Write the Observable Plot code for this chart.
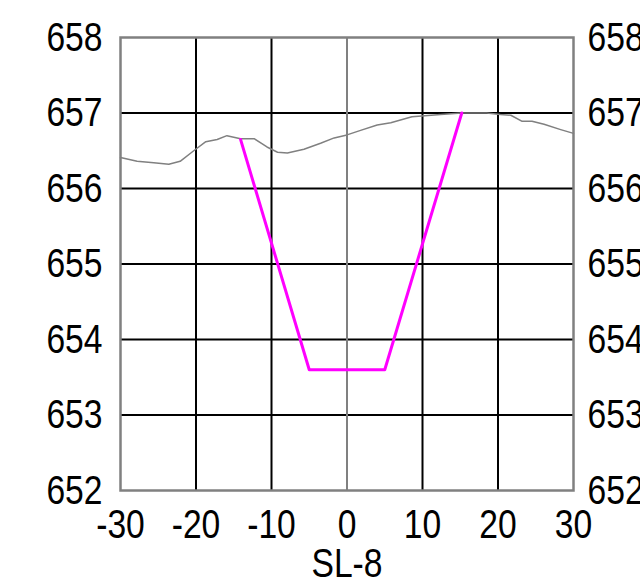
<!DOCTYPE html>
<html>
<head>
<meta charset="utf-8">
<script src="https://cdn.jsdelivr.net/npm/d3@7"></script>
<script src="https://cdn.jsdelivr.net/npm/@observablehq/plot@0.6"></script>
<style>
  html, body { margin: 0; padding: 0; background: #fff; }
  svg { display: block; }
</style>
</head>
<body>
<div id="chart"></div>
<script>
const groundX = [-30, -27.8, -25.6, -23.6, -22.1, -20.3, -18.7, -17.2, -15.9, -14.1, -12.3, -10.6, -9.2, -7.9, -5.7, -3.5, -1.7, 0.0, 1.8, 4.0, 5.8, 8.6, 9.9, 12.4, 15.2, 18.5, 20.3, 21.7, 23.2, 24.5, 26.1, 28.3, 30];
const groundY = [656.41, 656.36, 656.34, 656.32, 656.36, 656.50, 656.62, 656.65, 656.70, 656.66, 656.66, 656.55, 656.48, 656.47, 656.52, 656.60, 656.67, 656.71, 656.77, 656.84, 656.87, 656.95, 656.96, 656.98, 657.00, 657.00, 656.98, 656.97, 656.89, 656.89, 656.85, 656.78, 656.73];
const sectionX = [-14.1, -5, 5, 15.2];
const sectionY = [656.65, 653.6, 653.6, 657.0];
const xTicks = [-30, -20, -10, 0, 10, 20, 30];
const yTicks = [652, 653, 654, 655, 656, 657, 658];
const xTitle = "SL-8";

const ground = groundX.map((x, i) => ({x, y: groundY[i]}));
const section = sectionX.map((x, i) => ({x, y: sectionY[i]}));
const blackX = xTicks.filter(d => d !== 0 && d !== -30 && d !== 30);
const blackY = yTicks.filter(d => d !== 652 && d !== 658);

const font = "'Liberation Sans', Arial, sans-serif";
const fs = 41;

const chart = Plot.plot({
  width: 640,
  height: 587,
  marginLeft: 120,
  marginRight: 67,
  marginTop: 37,
  marginBottom: 97,
  style: {fontFamily: font, fontSize: fs + "px", color: "#000", background: "#fff"},
  x: {domain: [-30, 30]},
  y: {domain: [652, 658]},
  marks: [
    Plot.ruleY(blackY, {stroke: "#000", strokeWidth: 2}),
    Plot.ruleX(blackX, {stroke: "#000", strokeWidth: 2}),
    Plot.ruleX([0], {stroke: "#808080", strokeWidth: 2}),
    Plot.frame({stroke: "#808080", strokeWidth: 2.5}),
    Plot.line(ground, {x: "x", y: "y", stroke: "#808080", strokeWidth: 1.5}),
    Plot.line(section, {x: "x", y: "y", stroke: "#ff00ff", strokeWidth: 3}),
    Plot.axisY(yTicks, {anchor: "left", tickSize: 0, tickPadding: 18, label: null, fontSize: fs, tickFormat: d => String(d)}),
    Plot.axisY(yTicks, {anchor: "right", tickSize: 0, tickPadding: 14, label: null, fontSize: fs, tickFormat: d => String(d)}),
    Plot.axisX(xTicks, {anchor: "bottom", tickSize: 0, tickPadding: 18, label: null, fontSize: fs, tickFormat: d => String(d)}),
    Plot.text([xTitle], {frameAnchor: "bottom", dy: 86, lineAnchor: "bottom", fontSize: fs, text: d => d})
  ]
});
document.getElementById("chart").append(chart);
// Condense glyphs to mimic a narrow face (Arial Narrow ≈ 82% width)
chart.querySelectorAll("text").forEach(t => {
  const len = t.getComputedTextLength();
  if (len > 0) {
    t.setAttribute("textLength", (len * 0.82).toFixed(2));
    t.setAttribute("lengthAdjust", "spacingAndGlyphs");
  }
});
</script>
</body>
</html>
